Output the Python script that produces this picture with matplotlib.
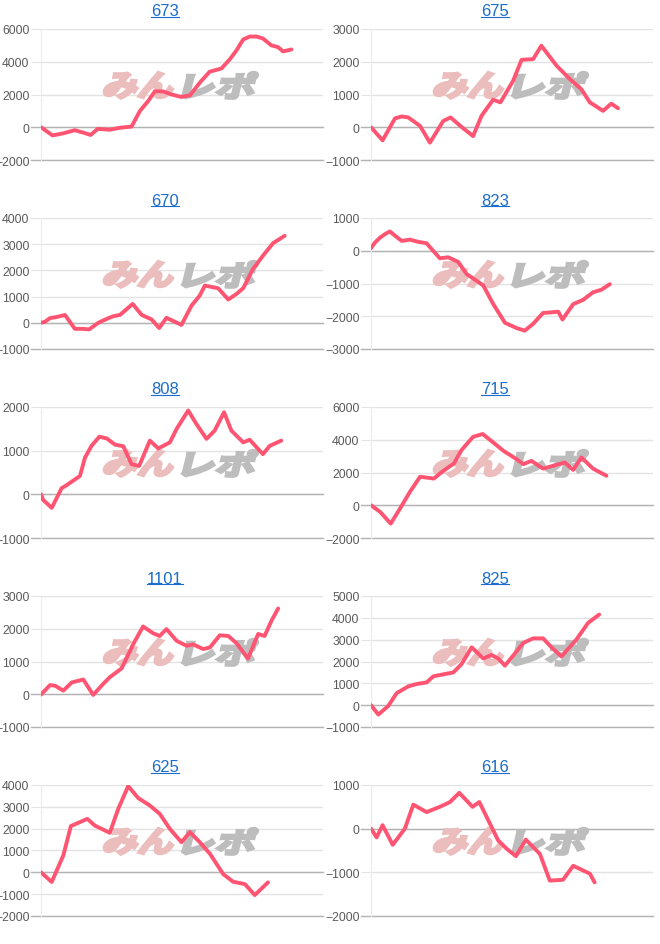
import matplotlib
matplotlib.use("Agg")
import matplotlib.pyplot as plt
import matplotlib.transforms as mtransforms
from matplotlib.font_manager import FontProperties
from matplotlib.lines import Line2D
from matplotlib.patches import PathPatch
from matplotlib.textpath import TextPath

plt.rcParams["font.family"] = ["Liberation Sans", "DejaVu Sans"]

# machine numbers, in page order (left, right per row)
titles = ["673", "675", "670", "823", "808", "715", "1101", "825", "625", "616"]

# x: share of the day's axis (0-100), y: cumulative medals
x_673 = [0, 4.1, 7.9, 12.0, 15.0, 17.6, 20.1, 24.4, 28.0, 32.1, 35.1, 38.0, 40.4, 43.3, 46.3,
         49.8, 52.8, 56.3, 59.8, 64.0, 66.9, 69.3, 71.7, 74.0, 76.4, 78.7, 81.7, 84.1, 85.8, 88.8]
y_673 = [0, -500, -370, -180, -330, -470, -100, -150, -30, 40, 1000, 1600, 2200, 2190, 2000,
         1850, 1950, 2720, 3390, 3590, 4140, 4690, 5360, 5540, 5540, 5420, 5000, 4890, 4630, 4750]

x_675 = [0, 4.1, 8.5, 10.9, 13.2, 17.4, 20.9, 25.6, 28.2, 32.1, 36.2, 39.2, 43.3, 45.9, 50.4,
         53.4, 57.5, 60.4, 65.8, 70.5, 74.6, 77.6, 82.3, 85.2, 87.6]
y_675 = [0, -400, 270, 330, 300, 40, -470, 190, 300, 10, -270, 350, 840, 760, 1420,
         2060, 2080, 2490, 1880, 1470, 1160, 760, 500, 720, 580]

x_670 = [0, 1.4, 3.2, 5.5, 8.5, 12.0, 14.4, 17.1, 20.3, 23.3, 25.6, 28.0, 32.5, 35.7, 39.2,
         41.9, 44.5, 49.8, 53.4, 56.3, 58.1, 62.8, 66.4, 69.3, 71.7, 75.2, 78.7, 82.3, 86.4]
y_670 = [0, 40, 180, 220, 300, -230, -230, -250, 0, 150, 250, 300, 720, 300, 130,
         -200, 190, -80, 660, 1040, 1420, 1320, 890, 1100, 1320, 2060, 2560, 3040, 3320]

x_823 = [0, 1.4, 3.2, 5.0, 6.7, 8.5, 10.9, 13.8, 16.8, 19.7, 21.5, 24.4, 27.4, 30.9, 33.9, 36.8,
         39.8, 43.3, 47.5, 51.6, 54.5, 57.5, 61.0, 64.0, 66.4, 67.9, 71.7, 75.2, 78.7, 81.7, 84.7]
y_823 = [80, 250, 400, 510, 590, 460, 300, 340, 270, 230, 50, -230, -200, -340, -710, -880,
         -1060, -1620, -2200, -2360, -2440, -2230, -1900, -1880, -1860, -2100, -1630, -1500,
         -1270, -1190, -1020]

x_808 = [0, 0.8, 3.8, 7.3, 9.1, 13.8, 15.6, 17.9, 20.7, 23.3, 26.2, 29.2, 32.1, 34.8, 38.6,
         41.6, 45.7, 48.1, 52.2, 55.1, 58.7, 61.6, 64.9, 67.5, 71.7, 74.0, 78.7, 81.1, 85.2]
y_808 = [0, -130, -310, 140, 210, 420, 840, 1110, 1320, 1280, 1140, 1100, 690, 650, 1230,
         1050, 1190, 1500, 1920, 1610, 1270, 1460, 1880, 1460, 1190, 1250, 920, 1110, 1230]

x_715 = [0, 3.2, 7.0, 10.3, 13.8, 17.4, 22.3, 25.6, 29.4, 32.1, 36.2, 39.6, 43.3, 46.9, 51.6,
         54.0, 56.9, 61.0, 64.6, 68.7, 71.7, 74.6, 78.7, 83.5]
y_715 = [0, -400, -1120, -200, 820, 1740, 1630, 2100, 2550, 3370, 4180, 4350, 3840, 3330, 2820,
         2510, 2710, 2240, 2410, 2610, 2160, 2920, 2240, 1800]

x_1101 = [0, 3.2, 5.0, 7.9, 10.9, 15.0, 18.5, 22.1, 24.4, 28.6, 32.7, 36.2, 39.8, 42.1, 44.5,
          48.1, 51.6, 54.0, 57.5, 59.9, 63.4, 66.4, 69.3, 73.4, 77.0, 79.3, 81.7, 84.1]
y_1101 = [-10, 280, 260, 110, 360, 450, -20, 320, 520, 790, 1530, 2070, 1860, 1780, 1990,
          1630, 1480, 1520, 1380, 1430, 1800, 1780, 1560, 1090, 1840, 1780, 2240, 2620]

x_825 = [0, 2.6, 6.1, 9.1, 13.2, 16.2, 19.7, 22.1, 24.4, 29.2, 32.1, 35.7, 39.8, 42.7, 45.1,
         47.5, 50.4, 54.0, 57.5, 61.0, 64.0, 67.5, 72.8, 77.0, 80.9]
y_825 = [0, -430, -40, 550, 860, 970, 1040, 1320, 1380, 1500, 1880, 2650, 2140, 2300, 2140,
         1810, 2270, 2850, 3060, 3060, 2650, 2230, 3000, 3770, 4150]

x_625 = [0, 3.8, 7.9, 10.6, 13.8, 16.4, 19.1, 24.4, 27.4, 30.9, 34.5, 38.6, 42.1, 45.7, 49.8,
         52.8, 56.3, 59.9, 64.6, 68.1, 72.3, 75.8, 80.5]
y_625 = [0, -440, 770, 2120, 2300, 2450, 2140, 1810, 2910, 3950, 3400, 3060, 2680, 1990, 1380,
         1840, 1380, 850, -80, -430, -540, -1040, -460]

x_616 = [0, 2.0, 4.1, 7.7, 12.0, 15.0, 19.7, 24.4, 28.0, 31.3, 36.0, 38.4, 41.6, 45.1, 48.1,
         51.4, 54.9, 59.9, 63.4, 68.1, 71.7, 77.6, 79.3]
y_616 = [0, -200, 80, -370, 0, 550, 380, 500, 610, 820, 500, 610, 190, -270, -460,
         -630, -250, -580, -1190, -1170, -850, -1030, -1230]

xs = [x_673, x_675, x_670, x_823, x_808, x_715, x_1101, x_825, x_625, x_616]
ys = [y_673, y_675, y_670, y_823, y_808, y_715, y_1101, y_825, y_625, y_616]

# y tick ranges (low, high, step)
y_ticks = [(-2000, 6000, 2000), (-1000, 3000, 1000), (-1000, 4000, 1000), (-3000, 1000, 1000),
           (-1000, 2000, 1000), (-2000, 6000, 2000), (-1000, 3000, 1000), (-1000, 5000, 1000),
           (-2000, 4000, 1000), (-2000, 1000, 1000)]

W, H = 660, 945
LINE = "#ff5472"
GRID = "#e3e3e3"
BASE = "#b3b3b3"
LINK = "#1a6dcc"


def add_logo(ax, text, color, cx, cy, w, h):
    fp = FontProperties(family="Noto Sans CJK JP", weight="bold")
    tp = TextPath((0, 0), text, size=1, prop=fp)
    ext = tp.get_extents()
    tr = (mtransforms.Affine2D()
          .translate(-(ext.x0 + ext.x1) / 2, -(ext.y0 + ext.y1) / 2)
          .scale(w / ext.width, h / ext.height)
          .skew_deg(14, 0)
          + mtransforms.ScaledTranslation(cx, cy, ax.transAxes))
    ax.add_patch(PathPatch(tp, transform=tr, fc=color, ec=color, lw=2.2,
                           joinstyle="miter", zorder=1.5))


fig = plt.figure(figsize=(W / 100, H / 100), dpi=100)
title_texts = []
for i, (name, x, y, (lo, hi, st)) in enumerate(zip(titles, xs, ys, y_ticks)):
    row, col = divmod(i, 2)
    left = 41 + 330 * col
    top = 30 + 189 * row
    ax = fig.add_axes([left / W, 1 - (top + 131) / H, 282 / W, 131 / H])
    ax.set_xlim(0, 100)
    ax.set_ylim(lo, hi)
    ax.set_yticks(range(lo, hi + 1, st))
    ax.set_xticks([])
    ax.grid(axis="y", color=GRID, lw=1)
    ax.set_axisbelow(True)
    for s in ("top", "right", "bottom"):
        ax.spines[s].set_visible(False)
    ax.spines["left"].set_color("#ebebeb")
    ax.tick_params(axis="y", length=7, width=0.8, color=GRID, pad=1.2,
                   labelsize=8.8, labelcolor="#5a5a5a")
    for yv in (0, lo):
        ax.axhline(yv, xmin=-0.034, xmax=1, color=BASE, lw=1, clip_on=False, zorder=1)

    add_logo(ax, "みん", "#ecbdbd", 0.35, 0.57, 68, 26)
    add_logo(ax, "レポ", "#bdbdbd", 0.635, 0.57, 70, 26)

    ax.plot(x, y, color=LINE, lw=2.8, solid_joinstyle="round",
            solid_capstyle="round", zorder=3)

    t = fig.text((165 + 330 * col) / W, 1 - (16.5 + 189 * row) / H, name,
                 ha="center", va="baseline", fontsize=12, color=LINK)
    title_texts.append((t, row))

# underline the titles like links
fig.canvas.draw()
r = fig.canvas.get_renderer()
for t, row in title_texts:
    bb = t.get_window_extent(r)
    yy = H - (17.6 + 189 * row)
    fig.add_artist(Line2D([bb.x0, bb.x1], [yy, yy], transform=None,
                          color=LINK, lw=0.8))

fig.savefig("out.png", dpi=100)
